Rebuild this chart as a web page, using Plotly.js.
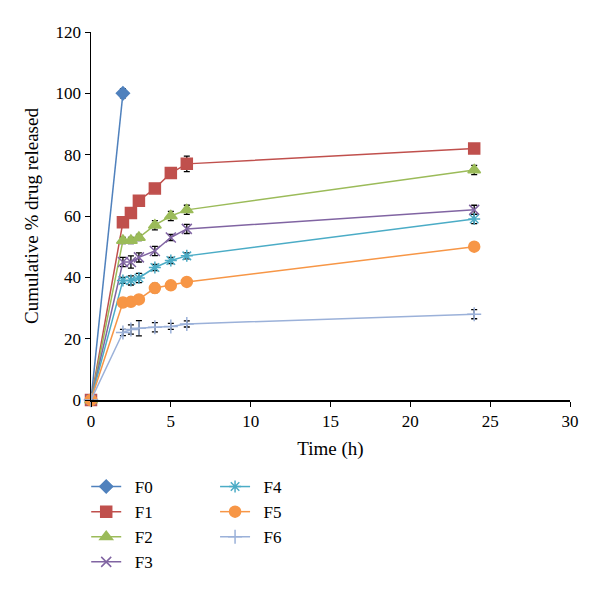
<!DOCTYPE html>
<html><head><meta charset="utf-8">
<script src="https://cdn.plot.ly/plotly-3.0.1.min.js"></script>
<style>html,body{margin:0;padding:0;background:#fff}#c{width:600px;height:592px}</style>
</head><body><div id="c"></div>
<script>
const time = [0, 2, 2.5, 3, 4, 5, 6, 24];
const timeF0 = [0, 2];
const F0 = [0, 100];
const F1 = [0, 58, 61, 65, 69, 74, 77, 82];
const F2 = [0, 52, 52, 53, 57, 60, 62, 75];
const F3 = [0, 45, 45, 46.5, 48.6, 53, 55.8, 62];
const F4 = [0, 39, 39, 39.8, 43.2, 45.5, 47, 59];
const F5 = [0, 31.8, 32, 32.8, 36.5, 37.4, 38.5, 50];
const F6 = [0, 22, 23, 23.4, 23.7, 24, 24.8, 28];
const errF0 = [0, 1.5];
const errF1 = [0, 1.5, 1, 1.5, 1, 1.5, 2.5, 1.5];
const errF2 = [0, 1, 1, 1, 1.5, 1.5, 1.5, 1.5];
const errF3 = [0, 1.5, 2, 1.5, 1.5, 1, 1.5, 1.5];
const errF4 = [0, 1, 1.5, 1.5, 1, 1, 1, 1.5];
const errF5 = [0, 1, 1, 1, 1.5, 1, 1, 1.2];
const errF6 = [0, 1, 1.5, 2.5, 1.5, 1, 1, 1.5];
const names = ['F0','F1','F2','F3','F4','F5','F6'];
const colors = ['#4F81BD','#C0504D','#9BBB59','#8064A2','#4BACC6','#F79646','#9BB1D9'];
const symbols = ['diamond','square','triangle-up','x-thin-open','asterisk-open','circle','cross-thin-open'];
const sizes = [10, 11, 11, 10, 10, 11, 10];
const xs = [timeF0, time, time, time, time, time, time];
const ys = [F0, F1, F2, F3, F4, F5, F6];
const errs = [errF0, errF1, errF2, errF3, errF4, errF5, errF6];

const traces = names.map((n, i) => ({
  x: xs[i], y: ys[i], name: '\u00A0\u00A0' + n, type: 'scatter', mode: 'lines+markers',
  line: {color: colors[i], width: 1.5},
  marker: {symbol: symbols[i], size: sizes[i], color: colors[i], line: {color: colors[i], width: 1.5}},
  error_y: {type: 'data', array: errs[i], visible: true, color: '#000', thickness: 1.3, width: 3},
  cliponaxis: false,
  legend: i < 4 ? 'legend' : 'legend2'
}));

const fam = 'Liberation Serif, Times New Roman, serif';
const tickFont = {family: fam, size: 17, color: '#000'};
const titleFont = {family: fam, size: 19, color: '#000'};
const legFont = {family: fam, size: 17, color: '#000'};
const layout = {
  width: 600, height: 592,
  margin: {l: 91, r: 30, t: 32, b: 192, autoexpand: false},
  paper_bgcolor: '#fff', plot_bgcolor: '#fff',
  font: tickFont,
  showlegend: true,
  xaxis: {
    range: [0, 30], tickmode: 'linear', tick0: 0, dtick: 5,
    showgrid: false, zeroline: false, showline: true, linecolor: '#000', linewidth: 1.5,
    ticks: 'outside', ticklen: 5, tickcolor: '#000', tickfont: tickFont,
    title: {text: 'Time (h)', font: titleFont, standoff: 12}
  },
  yaxis: {
    range: [0, 120], tickmode: 'linear', tick0: 0, dtick: 20,
    showgrid: false, zeroline: false, showline: true, linecolor: '#000', linewidth: 1.5,
    ticks: 'outside', ticklen: 5, tickcolor: '#000', tickfont: tickFont,
    title: {text: 'Cumulative % drug released', font: titleFont, standoff: 12}
  },
  legend: {x: -0.01, y: -0.1875, xanchor: 'left', yanchor: 'top', font: legFont, tracegroupgap: 0, itemwidth: 30, bgcolor: 'rgba(0,0,0,0)'},
  legend2: {x: 0.259, y: -0.1875, xanchor: 'left', yanchor: 'top', font: legFont, tracegroupgap: 0, itemwidth: 30, bgcolor: 'rgba(0,0,0,0)'}
};
Plotly.newPlot('c', traces, layout, {displayModeBar: false, staticPlot: true});
</script></body></html>
